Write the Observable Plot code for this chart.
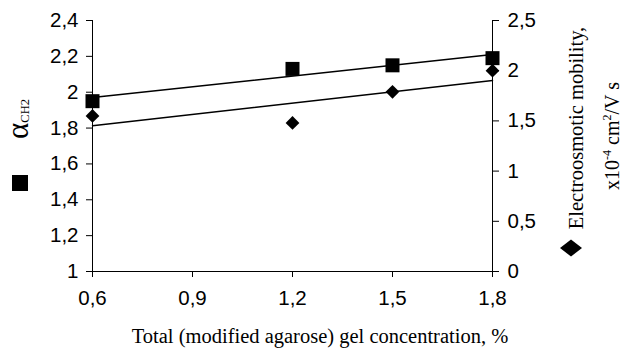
<!DOCTYPE html>
<html><head><meta charset="utf-8">
<script src="https://cdn.jsdelivr.net/npm/d3@7"></script>
<script src="https://cdn.jsdelivr.net/npm/@observablehq/plot@0.6"></script>
<style>
body{margin:0;background:#fff;}
#chart{width:623px;height:350px;}
svg{display:block;}
</style></head><body><div id="chart"></div>
<script>
// Data
const concentration = [0.6, 1.2, 1.5, 1.8];
const alphaCH2 = [1.95, 2.13, 2.15, 2.19];
const mobility = [1.55, 1.48, 1.79, 2.0];
const xTicks = [0.6, 0.9, 1.2, 1.5, 1.8];
const leftTicks = [1, 1.2, 1.4, 1.6, 1.8, 2, 2.2, 2.4];
const rightTicks = [0, 0.5, 1, 1.5, 2, 2.5];
const leftDomain = [1, 2.4];
const rightDomain = [0, 2.5];
const xDomain = [0.6, 1.8];
const xTitle = "Total (modified agarose) gel concentration, %";
const rightTitle1 = "Electroosmotic mobility,";

const k = (leftDomain[1] - leftDomain[0]) / (rightDomain[1] - rightDomain[0]);
const toLeft = v => leftDomain[0] + (v - rightDomain[0]) * k;
const fromLeft = v => rightDomain[0] + (v - leftDomain[0]) / k;
const fmt = v => String(+(+v).toFixed(2)).replace(".", ",");

const data = concentration.map((c, i) => ({c, a: alphaCH2[i], m: toLeft(mobility[i])}));
const sans = "'Liberation Sans', Arial, sans-serif";
const tickSizePx = 20.5;

const chart = Plot.plot({
  width: 623, height: 350,
  marginLeft: 92, marginRight: 131, marginTop: 20, marginBottom: 79,
  style: {fontFamily: sans, color: "black", background: "white"},
  x: {domain: xDomain},
  y: {domain: leftDomain},
  marks: [
    Plot.axisX({ticks: xTicks, tickFormat: fmt, tickSize: 6, tickPadding: 13, label: null, fontSize: tickSizePx}),
    Plot.axisY({ticks: leftTicks, anchor: "left", tickFormat: fmt, tickSize: 6, tickPadding: 8, label: null, fontSize: tickSizePx}),
    Plot.axisY({ticks: rightTicks.map(toLeft), anchor: "right", tickFormat: v => fmt(fromLeft(v)), tickSize: 6, tickPadding: 9, label: null, fontSize: tickSizePx}),
    Plot.ruleX([xDomain[0], xDomain[1]], {stroke: "black", strokeWidth: 1}),
    Plot.ruleY([leftDomain[0]], {stroke: "black", strokeWidth: 1}),
    Plot.linearRegressionY(data, {x: "c", y: "a", ci: 0, stroke: "black", strokeWidth: 1.5}),
    Plot.linearRegressionY(data, {x: "c", y: "m", ci: 0, stroke: "black", strokeWidth: 1.5}),
    Plot.dot(data, {x: "c", y: "a", symbol: "square", r: 7.9, fill: "black", stroke: "none"}),
    Plot.dot(data, {x: "c", y: "m", symbol: "diamond2", r: 6.2, fill: "black", stroke: "none"})
  ]
});
document.getElementById("chart").appendChild(chart);

const svg = d3.select(chart);
const serif = "'Liberation Serif', 'Times New Roman', serif";
svg.append("text").attr("x", 320).attr("y", 343).attr("text-anchor", "middle")
  .attr("font-family", serif).attr("font-size", 20.5).attr("fill", "black").text(xTitle);
const lt = svg.append("text").attr("transform", "translate(28,119) rotate(-90)")
  .attr("text-anchor", "middle").attr("font-family", serif).attr("fill", "black");
lt.append("tspan").attr("font-size", 31).text("α");
lt.append("tspan").attr("font-size", 12.5).attr("dy", 1).text("CH2");
svg.append("text").attr("transform", "translate(583,128) rotate(-90)")
  .attr("text-anchor", "middle").attr("font-family", serif).attr("font-size", 20.5).attr("fill", "black")
  .text(rightTitle1);
const rt = svg.append("text").attr("transform", "translate(619,136) rotate(-90)")
  .attr("text-anchor", "middle").attr("font-family", serif).attr("font-size", 20).attr("fill", "black");
rt.append("tspan").text("x10");
rt.append("tspan").attr("font-size", 12).attr("dy", -8).text("-4");
rt.append("tspan").attr("dy", 8).text(" cm");
rt.append("tspan").attr("font-size", 12).attr("dy", -8).text("2");
rt.append("tspan").attr("dy", 8).text("/V s");
svg.append("rect").attr("x", 12).attr("y", 175).attr("width", 16).attr("height", 16).attr("fill", "black");
svg.append("path").attr("d", "M571,239.5L582,248L571,256.5L560,248Z").attr("fill", "black");
</script>
</body></html>
